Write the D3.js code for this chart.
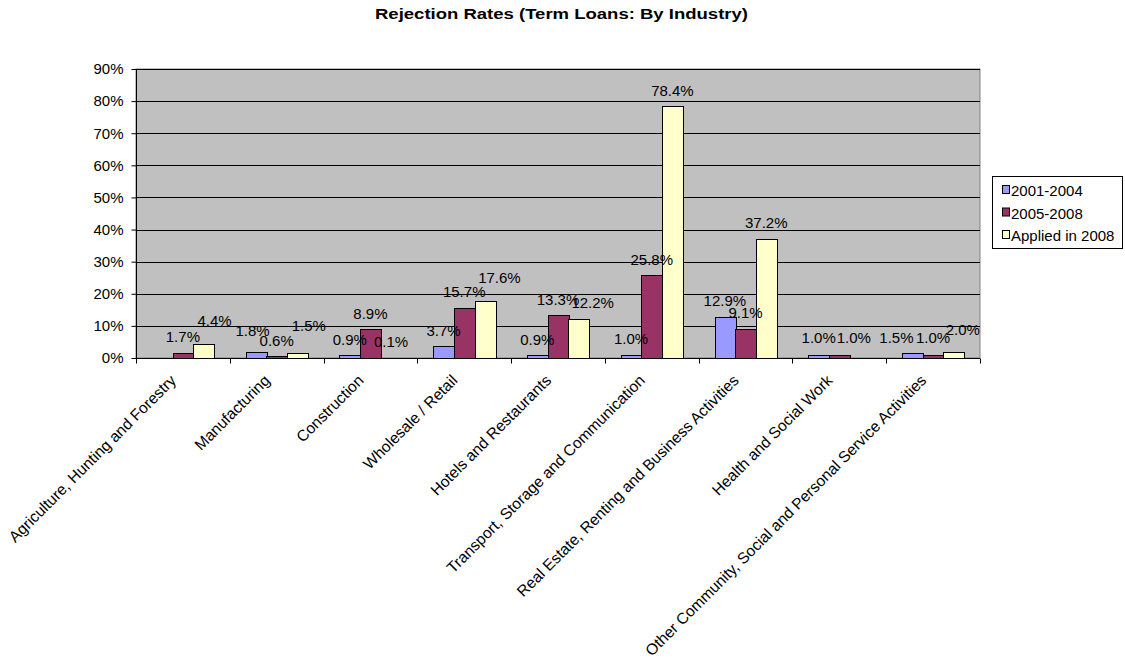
<!DOCTYPE html>
<html><head><meta charset="utf-8">
<script src="https://cdn.jsdelivr.net/npm/d3@7"></script>
<style>body{margin:0;background:#fff}svg{display:block}text{font-family:Arial,"Liberation Sans",sans-serif}</style>
</head><body><svg id="c" width="1125" height="658"></svg>
<script>
const categories = ["Agriculture, Hunting and Forestry","Manufacturing","Construction","Wholesale / Retail","Hotels and Restaurants","Transport, Storage and Communication","Real Estate, Renting and Business Activities","Health and Social Work","Other Community, Social and Personal Service Activities"];
const seriesNames = ["2001-2004","2005-2008","Applied in 2008"];
const s2001 = [null, 1.8, 0.9, 3.7, 0.9, 1.0, 12.9, 1.0, 1.5];
const s2005 = [1.7, 0.6, 8.9, 15.7, 13.3, 25.8, 9.1, 1.0, 1.0];
const s2008 = [4.4, 1.5, 0.1, 17.6, 12.2, 78.4, 37.2, null, 2.0];
const yTicks = [0,10,20,30,40,50,60,70,80,90];
const colors = ["#9999FF","#993366","#FFFFCC"];
// label nudges (series index | category index) -> [dx, dy], matching where labels sit in the original
const labelNudge = {"2|0":[11,-7.5],"0|1":[-3.5,-6],"2|1":[11.5,-12],"2|3":[14.5,-8],"2|4":[14,0],
  "1|7":[14.5,-1],"0|7":[0,-1],"0|8":[-16,0],"2|8":[9,-6.5],"1|8":[0,-1]};

const svg = d3.select("#c");
const L=136, R=980, T=69, B=358;
const x0 = d3.scaleBand().domain(categories).range([L,R]).padding(0);
const bw = x0.bandwidth();
const gap = bw*0.3385/2;
const x1 = d3.scaleBand().domain(seriesNames).range([gap, bw-gap]).padding(0);
const y = d3.scaleLinear().domain([0,90]).range([B,T]);

svg.append("text").attr("x",561.5).attr("y",19).attr("text-anchor","middle")
  .attr("textLength",373).attr("lengthAdjust","spacingAndGlyphs")
  .style("font-weight","bold").style("font-size","14px").text("Rejection Rates (Term Loans: By Industry)");

svg.append("rect").attr("x",L).attr("y",T).attr("width",R-L).attr("height",B-T)
  .attr("fill","#C0C0C0").attr("stroke","#808080").attr("stroke-width",1);

svg.append("g").selectAll("line").data(yTicks.filter(d=>d>0)).join("line")
  .attr("x1",L).attr("x2",R).attr("y1",d=>Math.round(y(d))+0.5).attr("y2",d=>Math.round(y(d))+0.5)
  .attr("stroke","#000").attr("stroke-width",1);

const data = [s2001,s2005,s2008];
const g = svg.append("g");
data.forEach((arr,si)=>{
  const pts = categories.map((c,i)=>({c,i,v:arr[i]})).filter(d=>d.v!=null);
  g.selectAll(null).data(pts).join("rect")
    .attr("x",d=>Math.round(x0(d.c)+x1(seriesNames[si]))+0.5)
    .attr("y",d=>Math.round(y(d.v))+0.5)
    .attr("width",Math.round(x1.bandwidth()))
    .attr("height",d=>Math.max(0,Math.round(B)-Math.round(y(d.v))))
    .attr("fill",colors[si]).attr("stroke","#000").attr("stroke-width",1);
});
data.forEach((arr,si)=>{
  const pts = categories.map((c,i)=>({c,i,v:arr[i]})).filter(d=>d.v!=null);
  g.selectAll(null).data(pts).join("text")
    .attr("x",d=>x0(d.c)+x1(seriesNames[si])+x1.bandwidth()/2+((labelNudge[si+"|"+d.i]||[0,0])[0]))
    .attr("y",d=>y(d.v)-10.5+((labelNudge[si+"|"+d.i]||[0,0])[1]))
    .attr("text-anchor","middle").style("font-size","15px").attr("fill","#000")
    .text(d=>d.v.toFixed(1)+"%");
});

// y axis
const ya = svg.append("g").attr("transform",`translate(${L+0.5},0)`)
  .call(d3.axisLeft(y).tickValues(yTicks).tickSize(5).tickFormat(d=>d+"%"));
ya.select(".domain").attr("stroke","#000").attr("d",`M0,${T}V${B}`);
ya.selectAll("text").style("font-size","15px").attr("font-family","Arial, 'Liberation Sans', sans-serif").attr("fill","#000").attr("x",-13);
ya.selectAll(".tick line").attr("stroke","#000");

// x axis
const xa = svg.append("g").attr("transform",`translate(0,${B+0.5})`);
xa.append("line").attr("x1",L).attr("x2",R).attr("stroke","#000");
xa.selectAll(null).data(categories.concat(["__end"])).join("line")
  .attr("x1",(d,i)=>Math.round(L+i*bw)+0.5).attr("x2",(d,i)=>Math.round(L+i*bw)+0.5)
  .attr("y1",0).attr("y2",5).attr("stroke","#000");
xa.selectAll(null).data(categories).join("text")
  .attr("transform",d=>`translate(${x0(d)+bw/2-9.7},${19}) rotate(-45)`)
  .attr("text-anchor","end").attr("dy","0.35em").style("font-size","15.6px").text(d=>d);

// legend
const lg = svg.append("g").attr("transform","translate(992,176)");
lg.append("rect").attr("x",0.5).attr("y",0.5).attr("width",130).attr("height",72).attr("fill","#fff").attr("stroke","#000");
const rowBase = [20, 42.5, 65];
seriesNames.forEach((n,i)=>{
  lg.append("rect").attr("x",10.5).attr("y",rowBase[i]-10.5).attr("width",7).attr("height",8)
    .attr("fill",colors[i]).attr("stroke","#000");
  lg.append("text").attr("x",19).attr("y",rowBase[i]).style("font-size","15px").text(n);
});
</script></body></html>
